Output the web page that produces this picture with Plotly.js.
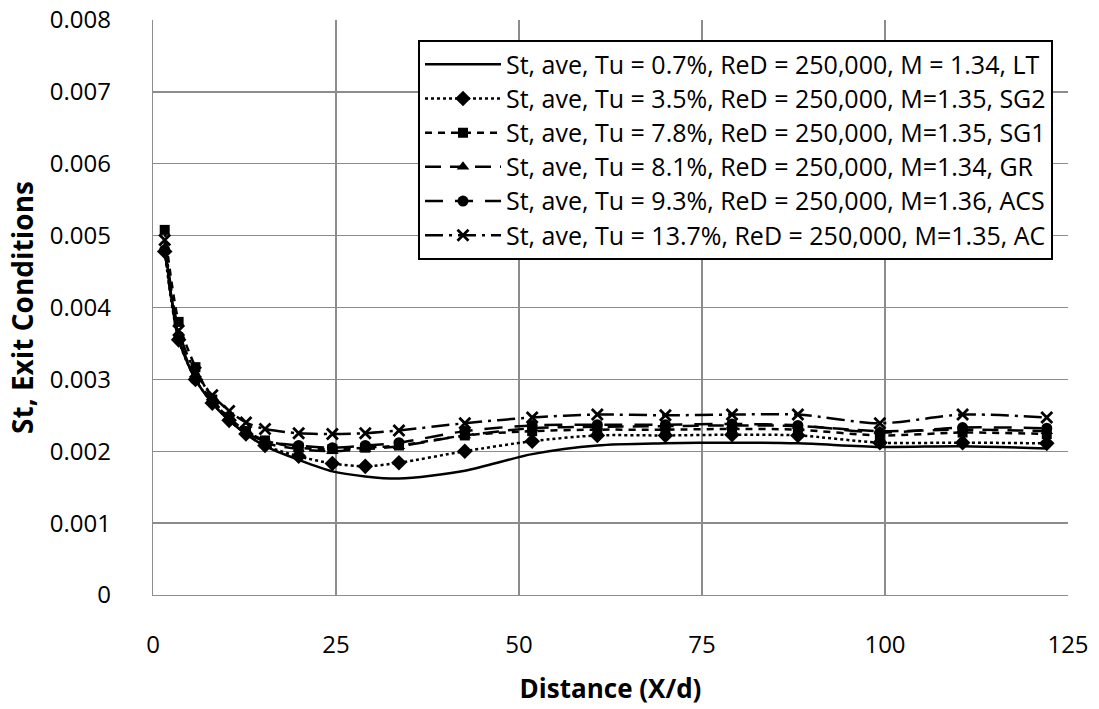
<!DOCTYPE html>
<html>
<head>
<meta charset="utf-8">
<script src="https://cdn.plot.ly/plotly-3.0.1.min.js"></script>
<style>html,body{margin:0;padding:0;background:#fff;}#chart{width:1099px;height:709px;}</style>
</head>
<body>
<div id="chart"></div>
<script>
// Distance X/d (shared by all series)
const distance = [1.6, 3.5, 5.8, 8.1, 10.4, 12.7, 15.3, 19.9, 24.5, 29.0, 33.6, 42.6, 51.8, 60.7, 70.0, 79.1, 88.1, 99.3, 110.6, 122.1];

const seriesNames = [
  "St, ave, Tu = 0.7%, ReD = 250,000, M = 1.34, LT",
  "St, ave, Tu = 3.5%, ReD = 250,000, M=1.35, SG2",
  "St, ave, Tu = 7.8%, ReD = 250,000, M=1.35, SG1",
  "St, ave, Tu = 8.1%, ReD = 250,000, M=1.34, GR",
  "St, ave, Tu = 9.3%, ReD = 250,000, M=1.36, ACS",
  "St, ave, Tu = 13.7%, ReD = 250,000, M=1.35, AC"
];

const stLT  = [0.00490, 0.00358, 0.00300, 0.00267, 0.00243, 0.00224, 0.00207, 0.00188, 0.00172, 0.00165, 0.00162, 0.00173, 0.00196, 0.00208, 0.00211, 0.00212, 0.00211, 0.00206, 0.00207, 0.00204];
const stSG2 = [0.00478, 0.00355, 0.00300, 0.00267, 0.00243, 0.00224, 0.00208, 0.00193, 0.00183, 0.00179, 0.00184, 0.00200, 0.00214, 0.00222, 0.00222, 0.00223, 0.00222, 0.00212, 0.00212, 0.00211];
const stSG1 = [0.00508, 0.00380, 0.00317, 0.00272, 0.00247, 0.00228, 0.00215, 0.00205, 0.00203, 0.00205, 0.00208, 0.00222, 0.00228, 0.00230, 0.00230, 0.00231, 0.00230, 0.00222, 0.00226, 0.00224];
const stGR  = [0.00482, 0.00360, 0.00302, 0.00270, 0.00246, 0.00228, 0.00212, 0.00203, 0.00200, 0.00203, 0.00207, 0.00222, 0.00232, 0.00234, 0.00235, 0.00236, 0.00235, 0.00228, 0.00230, 0.00228];
const stACS = [0.00480, 0.00357, 0.00300, 0.00268, 0.00244, 0.00226, 0.00214, 0.00208, 0.00205, 0.00208, 0.00212, 0.00228, 0.00236, 0.00237, 0.00237, 0.00238, 0.00236, 0.00226, 0.00233, 0.00232];
const stAC  = [0.00494, 0.00368, 0.00310, 0.00278, 0.00256, 0.00240, 0.00231, 0.00225, 0.00224, 0.00225, 0.00229, 0.00239, 0.00247, 0.00251, 0.00250, 0.00251, 0.00251, 0.00239, 0.00251, 0.00247];

const xTickVals = [0, 25, 50, 75, 100, 125];
const yTickVals = [0, 0.001, 0.002, 0.003, 0.004, 0.005, 0.006, 0.007, 0.008];
const yTickText = ["0", "0.001", "0.002", "0.003", "0.004", "0.005", "0.006", "0.007", "0.008"];

const FONT = "'Open Sans', Lato, sans-serif";
const BLACK = "#000000";

function trace(y, idx, mode, dash, symbol, msize, extraMarker) {
  return {
    type: "scatter",
    x: distance,
    y: y,
    name: '<span style="font-size:25px">' + seriesNames[idx] + '</span>',
    mode: mode,
    legendgroup: "g" + idx,
    line: {color: BLACK, width: 2.5, dash: dash, shape: "spline", smoothing: 0.8},
    marker: Object.assign({symbol: symbol, size: msize, color: BLACK, line: {color: BLACK, width: 0}}, extraMarker || {})
  };
}

const data = [
  trace(stLT, 0, "lines", "solid", "circle", 1),
  trace(stSG2, 1, "lines+markers", "dot", "diamond", 12),
  trace(stSG1, 2, "lines+markers", "7px,6px", "square", 10),
  trace(stGR, 3, "lines+markers", "16px,9px", "triangle-up", 11),
  trace(stACS, 4, "lines+markers", "18px,12px", "circle", 11),
  trace(stAC, 5, "lines+markers", "18px,6px,3px,6px", "x-thin-open", 11, {line: {color: BLACK, width: 2.8}})
];

const layout = {
  width: 1099,
  height: 709,
  margin: {l: 153, r: 31, t: 20, b: 114, pad: 0},
  paper_bgcolor: "#ffffff",
  plot_bgcolor: "#ffffff",
  font: {family: FONT, color: BLACK, size: 24},
  showlegend: true,
  legend: {
    x: 0.9836, xanchor: "right",
    y: 0.965, yanchor: "top",
    bgcolor: "#ffffff",
    bordercolor: BLACK,
    borderwidth: 2,
    font: {family: FONT, size: 24, color: BLACK},
    tracegroupgap: 0,
    itemwidth: 76
  },
  xaxis: {
    range: [0, 125],
    tickvals: xTickVals,
    showgrid: true,
    gridcolor: "#8c8c8c",
    gridwidth: 1.3,
    showline: true,
    linecolor: "#8c8c8c",
    linewidth: 1.3,
    zeroline: false,
    ticks: "",
    ticklabelstandoff: 28,
    tickfont: {family: FONT, size: 24, color: BLACK},
    title: {text: "<b>Distance (X/d)</b>", font: {family: FONT, size: 26, color: BLACK}, standoff: 20}
  },
  yaxis: {
    range: [0, 0.008],
    tickvals: yTickVals,
    ticktext: yTickText,
    showgrid: true,
    gridcolor: "#8c8c8c",
    gridwidth: 1.3,
    showline: true,
    linecolor: "#8c8c8c",
    linewidth: 1.3,
    zeroline: false,
    ticks: "",
    ticklabelstandoff: 36,
    tickfont: {family: FONT, size: 24, color: BLACK},
    title: {text: "<b>St, Exit Conditions</b>", font: {family: FONT, size: 28, color: BLACK}, standoff: 8}
  }
};

Plotly.newPlot("chart", data, layout, {displayModeBar: false, staticPlot: true});
</script>
</body>
</html>
